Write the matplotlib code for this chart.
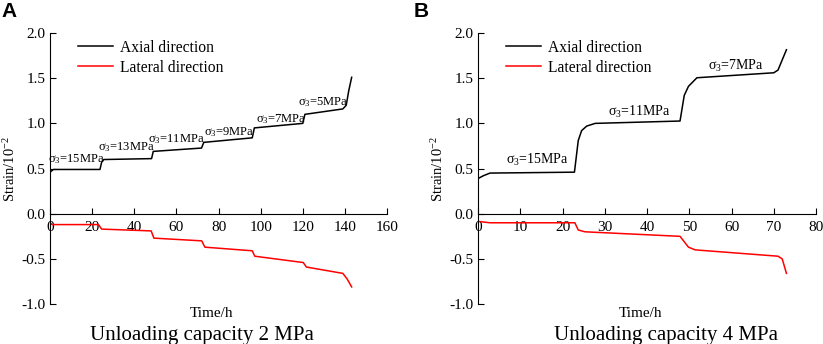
import matplotlib
matplotlib.use("Agg")
import matplotlib.pyplot as plt

plt.rcParams['font.family'] = ['Liberation Serif', 'DejaVu Serif']
plt.rcParams['mathtext.fontset'] = 'custom'
plt.rcParams['mathtext.rm'] = 'Liberation Serif'
plt.rcParams['mathtext.it'] = 'Liberation Serif:italic'

# Panel A data (unloading capacity 2 MPa)
a_ax_t = [0, 1.6, 23.7, 24.5, 25.5, 48.2, 49.0, 71.9, 73.0, 96.0, 97.0, 120.0, 121.0, 139.0, 140.6, 141.8, 143.2]
a_ax_s = [0.46, 0.49, 0.49, 0.57, 0.60, 0.61, 0.69, 0.727, 0.79, 0.84, 0.95, 1.00, 1.10, 1.16, 1.20, 1.36, 1.51]
a_la_t = [0, 1.0, 23.0, 24.5, 48.0, 49.3, 72.0, 73.5, 96.0, 97.2, 120.2, 121.7, 139.0, 141.0, 143.2]
a_la_s = [-0.10, -0.12, -0.12, -0.17, -0.19, -0.27, -0.30, -0.37, -0.41, -0.47, -0.54, -0.59, -0.66, -0.72, -0.81]
a_labels = ['σ$_3$=15MPa', 'σ$_3$=13MPa', 'σ$_3$=11MPa', 'σ$_3$=9MPa', 'σ$_3$=7MPa', 'σ$_3$=5MPa']
a_lab_x = [-0.8, 23.0, 46.6, 73.0, 97.7, 117.5]
a_lab_y = [0.60, 0.74, 0.83, 0.90, 1.05, 1.23]

# Panel B data (unloading capacity 4 MPa)
b_ax_t = [0, 1.2, 2.8, 22.8, 23.7, 24.5, 25.7, 27.7, 47.8, 48.8, 49.8, 51.8, 70.0, 71.0, 73.0]
b_ax_s = [0.39, 0.42, 0.45, 0.46, 0.81, 0.92, 0.97, 1.00, 1.026, 1.31, 1.41, 1.505, 1.56, 1.59, 1.815]
b_la_t = [0, 2.8, 22.9, 23.7, 25.3, 47.8, 49.8, 51.4, 71.0, 72.0, 73.0]
b_la_s = [-0.085, -0.10, -0.10, -0.18, -0.20, -0.25, -0.37, -0.40, -0.47, -0.50, -0.66]
b_labels = ['σ$_3$=15MPa', 'σ$_3$=11MPa', 'σ$_3$=7MPa']
b_lab_x = [6.6, 30.8, 54.4]
b_lab_y = [0.59, 1.13, 1.64]

fig = plt.figure(figsize=(8.23, 3.44), dpi=100)

def setup(ax, xmax, xstep, t_ax, s_ax, t_la, s_la, labs, lx, ly, fs, title, title_x):
    ax.plot(t_ax, s_ax, color='black', lw=1.1, label='Axial direction')
    ax.plot(t_la, s_la, color='red', lw=1.1, label='Lateral direction')
    for lab, x, y in zip(labs, lx, ly):
        ax.text(x, y, lab, fontsize=fs, ha='left', va='center')
    ax.set_xlim(0, xmax)
    ax.set_ylim(-1.0, 2.0)
    ax.set_xticks(range(0, xmax + 1, xstep))
    ax.set_yticks([-1.0, -0.5, 0.0, 0.5, 1.0, 1.5, 2.0])
    ax.set_yticklabels(['-1.0', '-0.5', '0.0', '0.5', '1.0', '1.5', '2.0'])
    ax.spines['top'].set_visible(False)
    ax.spines['right'].set_visible(False)
    ax.spines['bottom'].set_position(('data', 0))
    ax.tick_params(direction='in', length=4, labelsize=11, width=0.8)
    ax.tick_params(axis='x', pad=5)
    ax.set_ylabel('Strain/10$^{-2}$', fontsize=10.5, labelpad=2)
    ax.text(0.48, -0.01, 'Time/h', transform=ax.transAxes, ha='center', va='top', fontsize=11)
    ax.text(title_x, -0.08, title, transform=ax.transAxes, ha='center', va='top', fontsize=15)
    ax.legend(loc='upper left', bbox_to_anchor=(0.04, 1.027), frameon=False, fontsize=11.2,
              handlelength=2.3, labelspacing=0.25, handletextpad=0.4)

axA = fig.add_axes([0.0608, 0.116, 0.4095, 0.788])
setup(axA, 160, 20, a_ax_t, a_ax_s, a_la_t, a_la_s, a_labels, a_lab_x, a_lab_y, 9,
      'Unloading capacity 2 MPa', 0.45)
axB = fig.add_axes([0.581, 0.116, 0.4105, 0.788])
setup(axB, 80, 10, b_ax_t, b_ax_s, b_la_t, b_la_s, b_labels, b_lab_x, b_lab_y, 10,
      'Unloading capacity 4 MPa', 0.555)

fig.text(0.002, 0.995, 'A', fontsize=15, fontweight='bold', family='Liberation Sans', ha='left', va='top')
fig.text(0.503, 0.995, 'B', fontsize=15, fontweight='bold', family='Liberation Sans', ha='left', va='top')

fig.savefig('out.png', dpi=100)
